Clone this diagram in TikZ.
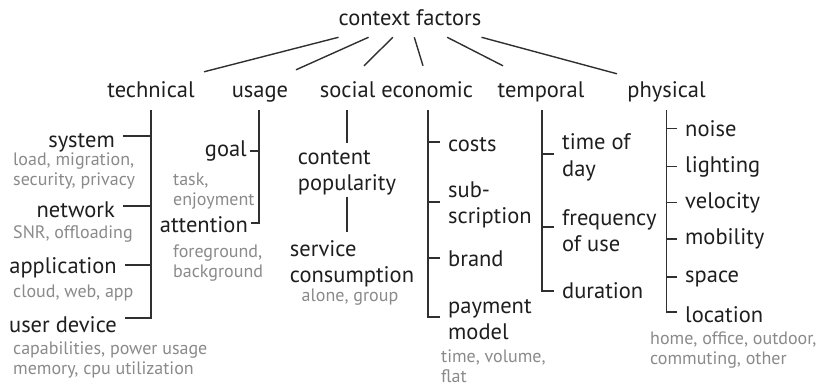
\documentclass[tikz,border=0pt]{standalone}
\usepackage{fontspec}
\setmainfont{PT Sans}
\usetikzlibrary{calc}
\definecolor{txtblack}{HTML}{1E1E1E}
\definecolor{txtgray}{HTML}{8A8A8A}
\definecolor{linegray}{HTML}{303030}
\tikzset{
  factor/.style={font=\fontsize{22.5}{26.5}\selectfont, text=txtblack, inner sep=0pt},
  cat/.style={factor, text height=14pt, text depth=4pt, anchor=base},
  leaf/.style={factor, align=left, inner xsep=8pt, inner ysep=0pt},
  detail/.style={font=\fontsize{18}{19.5}\selectfont, text=txtgray, align=left, inner sep=0pt},
  tree/.style={draw=linegray, line width=1.4pt}
}
\begin{document}
\begin{tikzpicture}[x=1pt,y=-1pt]
\useasboundingbox (0,0) rectangle (824,388);
% wurzel und kategorien
\node[factor, inner ysep=11pt] (root) at (410,18) {context factors};
\node[cat] (tech) at (151,97) {technical};
\node[cat] (usage) at (260,97) {usage};
\node[cat] (soc) at (396.5,97) {social economic};
\node[cat] (temp) at (541,97) {temporal};
\node[cat] (phys) at (666.5,97) {physical};
\draw[tree] (root.south west) -- ([xshift=53pt,yshift=11pt]tech.north);
\draw[tree] ($(root.south west)!.21!(root.south east)$) -- ([xshift=36pt,yshift=13pt]usage.north);
\draw[tree] ($(root.south west)!.38!(root.south east)$) -- ([xshift=-32.5pt,yshift=17pt]soc.north);
\draw[tree] ($(root.south west)!.53!(root.south east)$) -- ([xshift=26.5pt,yshift=17pt]soc.north);
\draw[tree] ($(root.south west)!.76!(root.south east)$) -- ([xshift=-38pt,yshift=17pt]temp.north);
\draw[tree] (root.south east) -- ([xshift=-49.5pt,yshift=9pt]phys.north);
% technical
\coordinate (techbar) at ([yshift=-9pt]tech.south);
\node[leaf, anchor=east] (sys) at (123,143) {system};
\node[leaf, anchor=east] (net) at (123,209.5) {network};
\node[leaf, anchor=east] (app) at (125,268) {application};
\node[leaf, anchor=east] (udev) at (125,325) {user device};
\node[detail, anchor=north west] (sysd) at (13,153) {load, migration,\\security, privacy};
\node[detail, anchor=north west] (netd) at (13,225) {SNR, offloading};
\node[detail, anchor=north west] (appd) at (13,285) {cloud, web, app};
\node[detail, anchor=north west] (udevd) at (13,342) {capabilities, power usage\\memory, cpu utilization};
\draw[tree] (techbar) |- ([yshift=7pt]udev.east);
\draw[tree] ([yshift=7pt]sys.east) -- ([yshift=7pt]sys.east -| techbar);
\draw[tree] ([yshift=3.5pt]net.east) -- ([yshift=3.5pt]net.east -| techbar);
\draw[tree] ([yshift=3pt]app.east) -- ([yshift=3pt]app.east -| techbar);
% usage
\coordinate (usebar) at ([xshift=-1pt,yshift=-9pt]usage.south);
\node[leaf, inner xsep=3pt, anchor=east] (goal) at (250,151) {goal};
\node[leaf, inner xsep=3pt, anchor=east] (att) at (251,225) {attention};
\node[detail, anchor=north west] (goald) at (173,173) {task,\\enjoyment};
\node[detail, anchor=north west] (attd) at (173,245) {foreground,\\background};
\draw[tree] (usebar) |- ([yshift=2pt]att.east);
\draw[tree] (goal.east) -- (goal.east -| usebar);
% social economic
\node[factor, align=left, anchor=north] (cpop) at (347,150) {content\\popularity};
\node[factor, align=left, anchor=north] (scons) at (352,240) {service\\consumption};
\node[detail, anchor=north] (sconsd) at (350,289) {alone, group};
\draw[tree] ([yshift=-9pt]soc.south -| cpop.north) -- ([yshift=7pt]cpop.north);
\draw[tree] ([yshift=-1pt]cpop.south) -- ([yshift=8pt]scons.north -| cpop.south);
\coordinate (econbar) at ([xshift=31.5pt,yshift=-9pt]soc.south);
\node[leaf, anchor=west] (costs) at (440,144.5) {costs};
\node[leaf, anchor=west] (subscr) at (440,205) {sub-\\scription};
\node[leaf, anchor=west] (brand) at (440,259) {brand};
\node[leaf, anchor=west] (paym) at (440,319.5) {payment\\model};
\node[detail, anchor=north west] (paymd) at (441,350) {time, volume,\\flat};
\draw[tree] (econbar) |- ([yshift=2.5pt]paym.west);
\draw[tree] ([yshift=2.5pt]costs.west) -- ([yshift=2.5pt]costs.west -| econbar);
\draw[tree] ([yshift=3pt]subscr.west) -- ([yshift=3pt]subscr.west -| econbar);
\draw[tree] ([yshift=1pt]brand.west) -- ([yshift=1pt]brand.west -| econbar);
% temporal
\coordinate (tempbar) at ([xshift=1pt,yshift=-9pt]temp.south);
\node[leaf, anchor=west] (tod) at (554,157.5) {time of\\day};
\node[leaf, anchor=west] (freq) at (554,230.5) {frequency\\of use};
\node[leaf, anchor=west] (dur) at (554,291) {duration};
\draw[tree] (tempbar) |- (dur.west);
\draw[tree] ([yshift=3.5pt]tod.west) -- ([yshift=3.5pt]tod.west -| tempbar);
\draw[tree] ([yshift=3.5pt]freq.west) -- ([yshift=3.5pt]freq.west -| tempbar);
% physical
\coordinate (physbar) at ([yshift=-9pt]phys.south);
\node[leaf, anchor=west] (noise) at (677,128.5) {noise};
\node[leaf, anchor=west] (light) at (677,166.5) {lighting};
\node[leaf, anchor=west] (velo) at (677,202.5) {velocity};
\node[leaf, anchor=west] (mobil) at (677,239) {mobility};
\node[leaf, anchor=west] (space) at (677,278.5) {space};
\node[leaf, anchor=west] (loc) at (677,314.5) {location};
\node[detail, anchor=north west] (locd) at (650,332) {home, office, outdoor,\\commuting, other};
\draw[tree] (physbar) |- ([yshift=2.5pt]loc.west);
\foreach \n in {noise,light,velo,mobil}
  \draw[tree] (\n.west) -- (\n.west -| physbar);
\draw[tree] ([yshift=1.5pt]space.west) -- ([yshift=1.5pt]space.west -| physbar);
\end{tikzpicture}
\end{document}
